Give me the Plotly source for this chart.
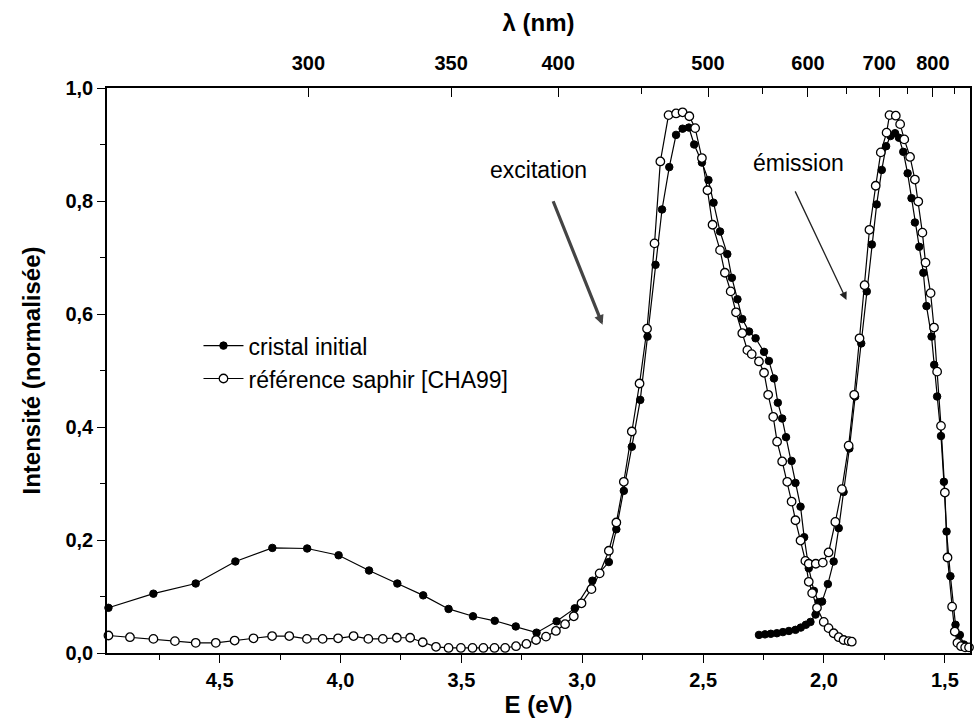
import plotly.graph_objects as go

# ---------------- data ----------------
# cristal initial - excitation branch
E_cristal_exc = [4.960, 4.774, 4.599, 4.435, 4.282, 4.138, 4.008, 3.882, 3.765, 3.658,
                 3.553, 3.452, 3.362, 3.275, 3.189, 3.106, 3.031, 2.958, 2.890, 2.859,
                 2.828, 2.795, 2.760, 2.730, 2.697, 2.670, 2.640, 2.612, 2.585, 2.559,
                 2.537, 2.505, 2.478, 2.457, 2.430, 2.400, 2.381, 2.358, 2.338, 2.310,
                 2.283, 2.248, 2.228, 2.207, 2.191, 2.173, 2.157, 2.134, 2.118, 2.097,
                 2.082, 2.063, 2.042, 2.022]
I_cristal_exc = [0.080, 0.105, 0.123, 0.162, 0.186, 0.185, 0.173, 0.146, 0.123, 0.102,
                 0.078, 0.065, 0.057, 0.047, 0.036, 0.056, 0.079, 0.128, 0.161, 0.219,
                 0.287, 0.365, 0.448, 0.560, 0.687, 0.785, 0.860, 0.917, 0.928, 0.930,
                 0.900, 0.868, 0.837, 0.797, 0.746, 0.706, 0.664, 0.626, 0.591, 0.569,
                 0.557, 0.533, 0.517, 0.486, 0.443, 0.415, 0.382, 0.340, 0.301, 0.259,
                 0.205, 0.150, 0.110, 0.090]
# cristal initial - emission branch
E_cristal_em = [2.269, 2.244, 2.220, 2.195, 2.170, 2.145, 2.118, 2.096, 2.075, 2.056,
                2.035, 2.008, 1.984, 1.960, 1.939, 1.919, 1.895, 1.871, 1.846, 1.823,
                1.802, 1.782, 1.761, 1.743, 1.725, 1.706, 1.690, 1.672, 1.654, 1.638,
                1.624, 1.606, 1.589, 1.576, 1.555, 1.544, 1.532, 1.516, 1.504, 1.493,
                1.477, 1.456, 1.438, 1.421, 1.404]
I_cristal_em = [0.032, 0.033, 0.034, 0.035, 0.037, 0.039, 0.041, 0.045, 0.050, 0.055,
                0.068, 0.091, 0.122, 0.162, 0.221, 0.285, 0.362, 0.454, 0.548, 0.640,
                0.723, 0.794, 0.855, 0.897, 0.915, 0.920, 0.912, 0.887, 0.849, 0.805,
                0.762, 0.719, 0.673, 0.614, 0.560, 0.510, 0.454, 0.384, 0.303, 0.215,
                0.136, 0.050, 0.032, 0.015, 0.010]
# référence saphir [CHA99] - excitation branch
E_ref_exc = [4.960, 4.871, 4.774, 4.685, 4.599, 4.516, 4.438, 4.360, 4.283, 4.212,
             4.139, 4.074, 4.010, 3.946, 3.885, 3.825, 3.767, 3.712, 3.660, 3.605,
             3.553, 3.502, 3.454, 3.409, 3.363, 3.319, 3.274, 3.231, 3.191, 3.150,
             3.109, 3.071, 3.035, 3.003, 2.962, 2.928, 2.890, 2.859, 2.828, 2.795,
             2.763, 2.732, 2.701, 2.677, 2.643, 2.612, 2.585, 2.557, 2.533, 2.505,
             2.482, 2.461, 2.430, 2.410, 2.386, 2.364, 2.338, 2.317, 2.299, 2.269,
             2.248, 2.231, 2.210, 2.194, 2.173, 2.152, 2.134, 2.118, 2.097, 2.077,
             2.063, 2.049, 2.029, 2.001, 1.981, 1.960, 1.939, 1.919, 1.898, 1.885]
I_ref_exc = [0.031, 0.028, 0.025, 0.021, 0.018, 0.018, 0.022, 0.026, 0.030, 0.030,
             0.025, 0.025, 0.026, 0.030, 0.025, 0.025, 0.027, 0.027, 0.019, 0.011,
             0.009, 0.009, 0.009, 0.009, 0.009, 0.009, 0.012, 0.016, 0.023, 0.029,
             0.039, 0.051, 0.065, 0.088, 0.113, 0.141, 0.181, 0.231, 0.303, 0.392,
             0.477, 0.574, 0.725, 0.870, 0.952, 0.955, 0.957, 0.950, 0.929, 0.876,
             0.819, 0.758, 0.713, 0.673, 0.640, 0.603, 0.566, 0.536, 0.529, 0.516,
             0.496, 0.457, 0.418, 0.374, 0.339, 0.303, 0.268, 0.235, 0.199, 0.163,
             0.126, 0.106, 0.080, 0.055, 0.044, 0.035, 0.028, 0.023, 0.021, 0.020]
# référence saphir [CHA99] - emission branch
E_ref_em = [2.063, 2.034, 2.005, 1.981, 1.953, 1.926, 1.898, 1.875, 1.853, 1.832,
            1.812, 1.786, 1.765, 1.741, 1.729, 1.703, 1.685, 1.668, 1.644, 1.624,
            1.610, 1.593, 1.580, 1.559, 1.545, 1.532, 1.516, 1.500, 1.489, 1.470,
            1.459, 1.448, 1.433, 1.416, 1.400]
I_ref_em = [0.158, 0.158, 0.160, 0.178, 0.232, 0.290, 0.367, 0.457, 0.557, 0.651,
            0.749, 0.827, 0.886, 0.921, 0.952, 0.951, 0.936, 0.909, 0.878, 0.838,
            0.799, 0.744, 0.691, 0.637, 0.576, 0.498, 0.402, 0.284, 0.169, 0.082,
            0.038, 0.018, 0.012, 0.010, 0.010]

E_major = [4.5, 4.0, 3.5, 3.0, 2.5, 2.0, 1.5]
E_minor = [4.75, 4.25, 3.75, 3.25, 2.75, 2.25, 1.75]
I_major = [0.0, 0.2, 0.4, 0.6, 0.8, 1.0]
I_minor = [0.1, 0.3, 0.5, 0.7, 0.9]
lambda_major = [300, 350, 400, 500, 600, 700, 800]
lambda_minor = [450, 550, 650, 750, 850]
HC = 1239.84  # eV.nm

E_RANGE = [4.966, 1.396]

# ---------------- figure ----------------
FONT = "Liberation Sans, Arial, sans-serif"
fig = go.Figure()

fig.add_trace(go.Scatter(
    x=E_cristal_exc + [None] + E_cristal_em,
    y=I_cristal_exc + [None] + I_cristal_em,
    mode="lines+markers", name="cristal initial", legendgroup="a",
    connectgaps=False, cliponaxis=False,
    line=dict(color="black", width=1.2),
    marker=dict(symbol="circle", size=7.5, color="black",
                line=dict(color="black", width=1)),
))
fig.add_trace(go.Scatter(
    x=E_ref_exc + [None] + E_ref_em,
    y=I_ref_exc + [None] + I_ref_em,
    mode="lines+markers", name="référence saphir [CHA99]", legendgroup="b",
    connectgaps=False, cliponaxis=False,
    line=dict(color="black", width=1.2),
    marker=dict(symbol="circle", size=8.5, color="white",
                line=dict(color="black", width=1.3)),
))
# invisible helper so the wavelength (top) axis is drawn
fig.add_trace(go.Scatter(
    x=E_ref_exc, y=I_ref_exc, xaxis="x2", mode="markers",
    marker=dict(opacity=0), hoverinfo="skip", showlegend=False,
))

tickfont = dict(family=FONT, size=20, color="black", weight="bold")
titlefont = dict(family=FONT, size=24, color="black", weight="bold")

fig.update_layout(
    width=975, height=723,
    margin=dict(l=107, r=3, t=88, b=70),
    paper_bgcolor="white", plot_bgcolor="white",
    separators=", ",
    font=dict(family=FONT, color="black"),
    xaxis=dict(
        range=E_RANGE, showgrid=False, zeroline=False,
        showline=True, linecolor="black", linewidth=1.5, mirror=False,
        tickmode="array", tickvals=E_major, tickformat=".1f",
        ticks="outside", ticklen=8, tickwidth=1.3, tickcolor="black",
        ticklabelstandoff=0,
        minor=dict(tickmode="array", tickvals=E_minor, ticks="outside",
                   ticklen=5, tickwidth=1.2, tickcolor="black"),
        tickfont=tickfont,
        title=dict(text="E (eV)", font=titlefont, standoff=2),
    ),
    xaxis2=dict(
        overlaying="x", side="top", range=E_RANGE,
        showgrid=False, zeroline=False,
        showline=True, linecolor="black", linewidth=1.5,
        tickmode="array", tickvals=[HC / l for l in lambda_major],
        ticktext=[str(l) for l in lambda_major],
        ticks="inside", ticklen=9, tickwidth=1.3, tickcolor="black",
        ticklabelstandoff=8,
        minor=dict(tickmode="array", tickvals=[HC / l for l in lambda_minor],
                   ticks="inside", ticklen=6, tickwidth=1.2, tickcolor="black"),
        tickfont=tickfont,
        title=dict(text="λ (nm)", font=titlefont, standoff=14),
    ),
    yaxis=dict(
        range=[0, 1], showgrid=False, zeroline=False,
        showline=True, linecolor="black", linewidth=1.5, mirror=True,
        tickmode="array", tickvals=I_major, tickformat=".1f",
        ticks="outside", ticklen=8, tickwidth=1.3, tickcolor="black",
        minor=dict(tickmode="array", tickvals=I_minor, ticks="outside",
                   ticklen=5, tickwidth=1.2, tickcolor="black"),
        tickfont=tickfont,
        title=dict(text="Intensité (normalisée)", font=titlefont, standoff=18),
    ),
    legend=dict(
        x=0.106, y=0.582, xanchor="left", yanchor="top",
        bgcolor="rgba(0,0,0,0)", borderwidth=0,
        font=dict(family=FONT, size=23, color="black"),
        tracegroupgap=0, itemwidth=40,
    ),
    showlegend=True,
)

annot_font = dict(family=FONT, size=23, color="black")
fig.add_annotation(x=3.183, y=0.855, xref="x", yref="y", text="excitation",
                   showarrow=False, font=annot_font)
fig.add_annotation(x=2.104, y=0.867, xref="x", yref="y", text="émission",
                   showarrow=False, font=annot_font)
# arrows (head position in data coords, tail offset in pixels)
fig.add_annotation(x=2.916, y=0.581, xref="x", yref="y", text="",
                   showarrow=True, arrowhead=2, arrowsize=0.6, arrowwidth=3.2,
                   arrowcolor="#444", ax=-50, ay=-125)
fig.add_annotation(x=1.907, y=0.625, xref="x", yref="y", text="",
                   showarrow=True, arrowhead=2, arrowsize=1.2, arrowwidth=1.3,
                   arrowcolor="#222", ax=-52, ay=-110)

fig.write_html("out.html")
